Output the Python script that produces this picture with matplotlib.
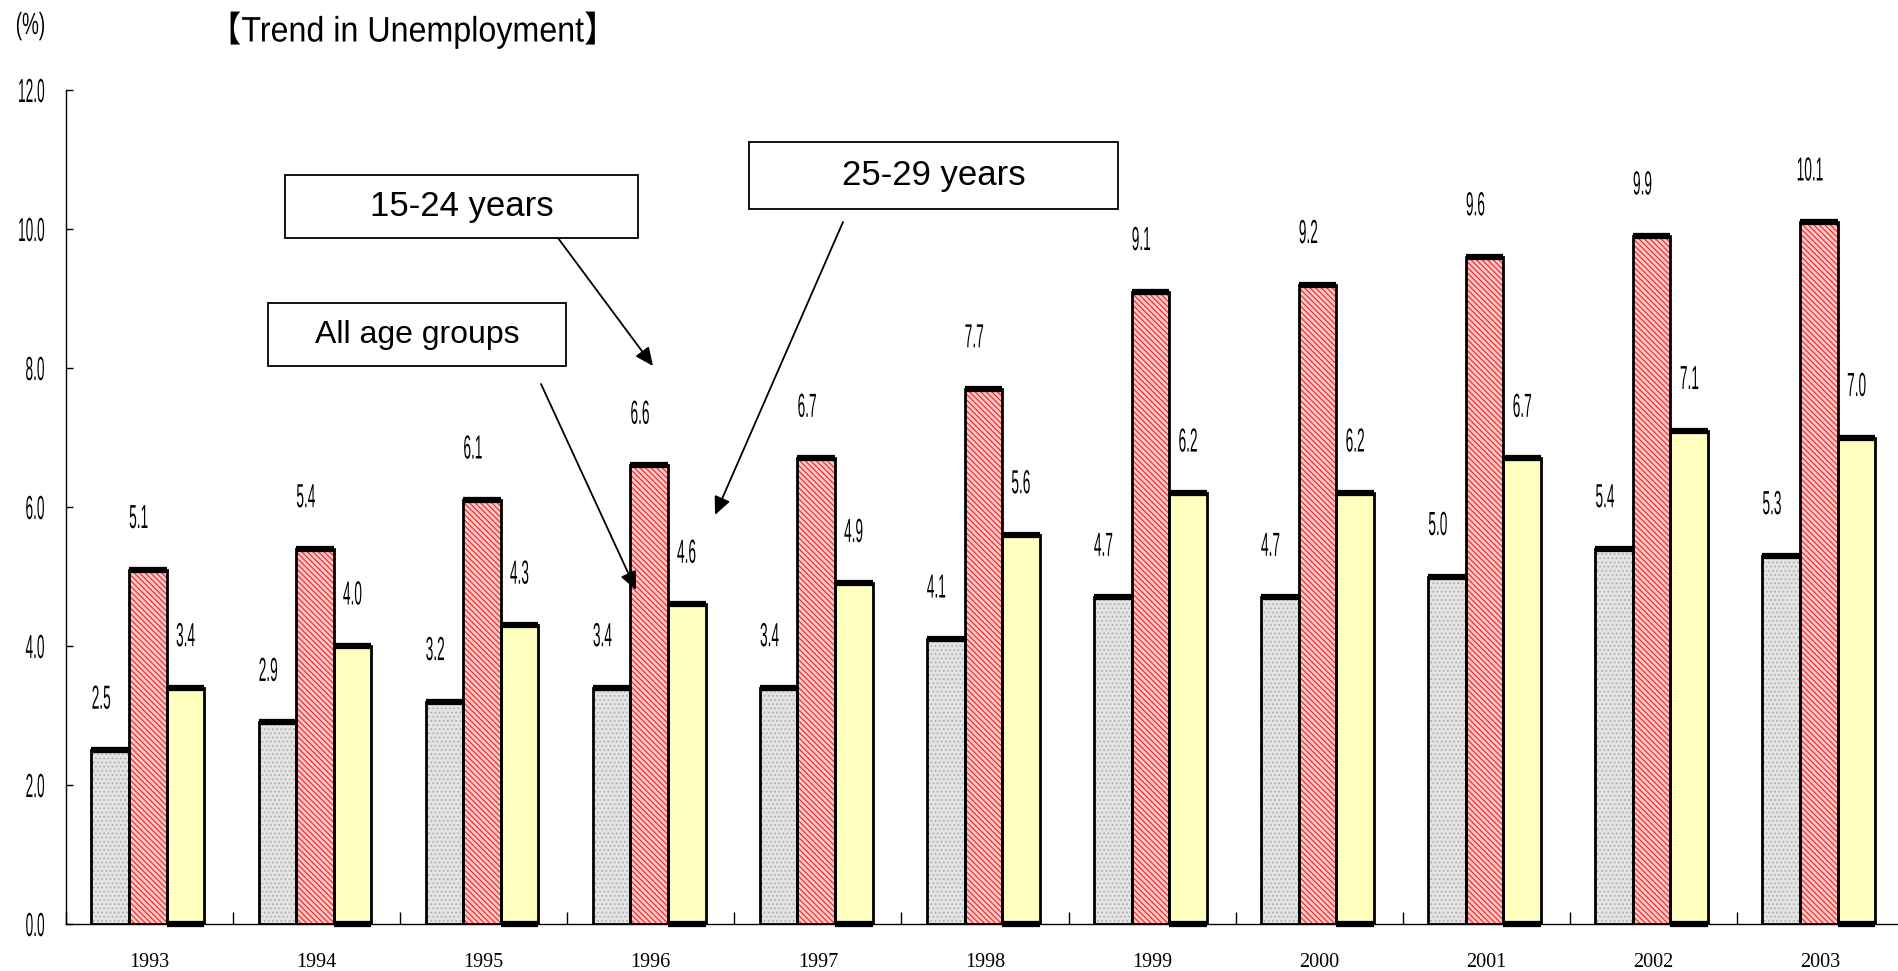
import matplotlib
matplotlib.use("Agg")
import matplotlib.pyplot as plt
from matplotlib.patches import Rectangle
from matplotlib.patheffects import AbstractPathEffect
from matplotlib.transforms import Affine2D
import numpy as np

# --- data -------------------------------------------------------------
years = ["1993", "1994", "1995", "1996", "1997", "1998",
         "1999", "2000", "2001", "2002", "2003"]
all_ages = [2.5, 2.9, 3.2, 3.4, 3.4, 4.1, 4.7, 4.7, 5.0, 5.4, 5.3]
age_15_24 = [5.1, 5.4, 6.1, 6.6, 6.7, 7.7, 9.1, 9.2, 9.6, 9.9, 10.1]
age_25_29 = [3.4, 4.0, 4.3, 4.6, 4.9, 5.6, 6.2, 6.2, 6.7, 7.1, 7.0]
yticks = [0.0, 2.0, 4.0, 6.0, 8.0, 10.0, 12.0]

SANS = "Liberation Sans"
SERIF = "Liberation Serif"
CJK = "Noto Sans CJK JP"


class Squeeze(AbstractPathEffect):
    """Draw text glyphs compressed horizontally (a narrow face look)."""

    def __init__(self, sx, anchor="center"):
        super().__init__()
        self._sx = sx
        self._anchor = anchor

    def draw_path(self, renderer, gc, tpath, affine, rgbFace=None):
        ext = tpath.get_extents(affine)
        if self._anchor == "left":
            cx = ext.x0
        elif self._anchor == "right":
            cx = ext.x1
        else:
            cx = 0.5 * (ext.x0 + ext.x1)
        t = affine + Affine2D().translate(-cx, 0).scale(self._sx, 1.0).translate(cx, 0)
        renderer.draw_path(gc, tpath, t, rgbFace)


W, H = 1899, 971
fig = plt.figure(figsize=(W / 100, H / 100), dpi=100)
fig.patch.set_facecolor("white")

ax_left, ax_right = 66, 1904
ax_bottom, ax_top = 924, 90
ax = fig.add_axes([ax_left / W, (H - ax_bottom) / H,
                   (ax_right - ax_left) / W, (ax_bottom - ax_top) / H])

x = np.arange(len(years))
bw = 0.225
offsets = [-0.235, -0.01, 0.215]

plt.rcParams["hatch.linewidth"] = 0.8

# gray dotted bars (all age groups)
ax.bar(x + offsets[0], all_ages, bw, color="#e4e4e4", edgecolor="#b0b0b0",
       hatch="....", linewidth=0, zorder=2)
# red hatched bars (15-24)
ax.bar(x + offsets[1], age_15_24, bw, color="#ffc8c8", edgecolor="#ee2222",
       hatch="\\\\\\\\\\\\", linewidth=0, zorder=2)
# yellow bars (25-29)
ax.bar(x + offsets[2], age_25_29, bw, color="#ffffc0", linewidth=0, zorder=2)

# outlines with heavy top edge
for off, vals in zip(offsets, [all_ages, age_15_24, age_25_29]):
    ax.bar(x + off, vals, bw, fill=False, edgecolor="black", linewidth=2.0, zorder=3)
    ax.hlines(vals, x + off - bw / 2, x + off + bw / 2, colors="black",
              linewidth=4.5, zorder=4)
# heavy bottom edge on the 25-29 bars
ax.hlines([0] * len(years), x + offsets[2] - bw / 2, x + offsets[2] + bw / 2,
          colors="black", linewidth=4.5, zorder=4, clip_on=False)

# value labels
narrow = [Squeeze(0.41)]
lab_shift = [-0.055, -0.055, 0.0]
for off, sh, vals in zip(offsets, lab_shift, [all_ages, age_15_24, age_25_29]):
    for xi, v in zip(x, vals):
        ax.text(xi + off + sh, v + 0.72, f"{v:.1f}", ha="center", va="center",
                fontsize=24, family=SANS, color="black", zorder=5,
                path_effects=narrow)

# axes styling
ax.set_xlim(-0.5, len(years) - 0.5)
ax.set_ylim(0, 12)
ax.set_yticks(yticks)
ax.set_yticklabels([f"{t:.1f}" for t in yticks], family=SANS, fontsize=24)
for lab in ax.get_yticklabels():
    lab.set_path_effects([Squeeze(0.41, anchor="right")])
ax.tick_params(axis="y", direction="in", length=5, width=1, pad=15)

ax.set_xticks(x)
ax.set_xticklabels(years, family=SERIF, fontsize=14.5)
ax.tick_params(axis="x", which="major", length=0, pad=21)
ax.set_xticks(np.arange(len(years) + 1) - 0.5, minor=True)
ax.tick_params(axis="x", which="minor", direction="in", length=9, width=1)

for s in ["top", "right"]:
    ax.spines[s].set_visible(False)
for s in ["left", "bottom"]:
    ax.spines[s].set_linewidth(1.0)

# titles
fig.text(15 / W, 1 - 26 / H, "(%)", family=SANS, fontsize=22,
         ha="left", va="center", path_effects=[Squeeze(0.62, anchor="left")])
fig.text(207 / W, 1 - 30 / H, "【Trend in Unemployment】", family=[SANS, CJK],
         fontsize=25.5, ha="left", va="center",
         path_effects=[Squeeze(0.91, anchor="left")])


# callout boxes with arrows
def callout(x0, y0, x1, y1, text, size, tail, tip):
    fig.patches.append(Rectangle((x0 / W, 1 - y1 / H), (x1 - x0) / W, (y1 - y0) / H,
                                 transform=fig.transFigure, facecolor="white",
                                 edgecolor="black", linewidth=1.3, zorder=6))
    fig.text((x0 + x1) / 2 / W, 1 - (y0 + y1) / 2 / H, text, family=SANS,
             fontsize=size, ha="center", va="center", zorder=7)
    ax.annotate("", xy=(tip[0] / W, 1 - tip[1] / H), xycoords="figure fraction",
                xytext=(tail[0] / W, 1 - tail[1] / H), textcoords="figure fraction",
                arrowprops=dict(arrowstyle="-|>,head_length=1.1,head_width=0.5",
                                color="black", lw=1.3, shrinkA=0, shrinkB=0),
                zorder=7, annotation_clip=False)


callout(285, 175, 638, 238, "15-24 years", 25, (558, 238), (653, 366))
callout(268, 303, 566, 366, "All age groups", 23, (541, 384), (636, 590))
callout(749, 142, 1118, 209, "25-29 years", 25, (843, 222), (715, 515))

fig.savefig("out.png", dpi=100, facecolor="white")
